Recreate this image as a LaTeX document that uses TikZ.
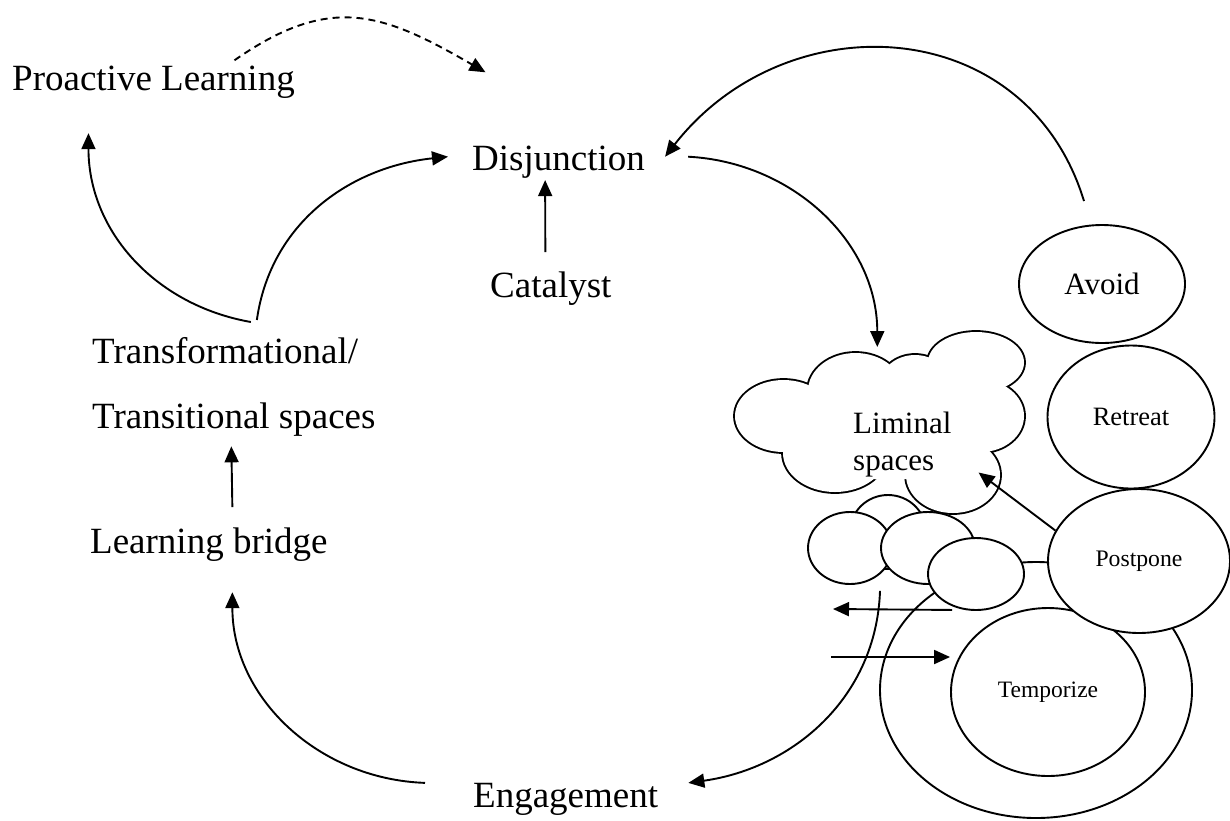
\documentclass[tikz,border=0pt]{standalone}
\usepackage{fontspec}
\setmainfont{Liberation Serif}
\usetikzlibrary{shapes.geometric, arrows.meta}

\begin{document}
\begin{tikzpicture}[x=1pt, y=1pt,
    flow/.style={-{Triangle[length=16pt,width=14pt]}, line width=1.9pt},
    term/.style={font=\fontsize{37}{44}\selectfont, inner sep=0pt, anchor=base west},
    bubble/.style={ellipse, draw, fill=white, line width=1.9pt, inner sep=0pt}]
    \useasboundingbox (0,0) rectangle (1230,-820);
    % ring round Temporize
    \node[bubble, minimum width=312, minimum height=256] (ring) at (1036,-690) {};
    \node[bubble, minimum width=194, minimum height=168, font=\fontsize{23.5}{28}\selectfont] (temp) at (1048,-692) {Temporize};
    \node[bubble, minimum width=76, minimum height=74] (b0) at (888,-532) {};
    % the cloud: thick strokes, then white fill keeps only the outer rim
    \foreach \cx/\cy/\rx/\ry in {783.5/416/48.5/36, 855.5/391/47.5/38, 915/385/35/30, 976/362.5/48/30.5, 981/416/43/36, 953/475/47/38, 835/453/52/39}
        \draw[line width=3.8pt] (\cx,-\cy) ellipse [x radius=\rx, y radius=\ry];
    \foreach \cx/\cy/\rx/\ry in {783.5/416/48.5/36, 855.5/391/47.5/38, 915/385/35/30, 976/362.5/48/30.5, 981/416/43/36, 953/475/47/38, 835/453/52/39}
        \fill[white] (\cx,-\cy) ellipse [x radius=\rx, y radius=\ry];
    \fill[white] (890,-425) ellipse [x radius=90, y radius=55];
    \node[bubble, minimum width=84, minimum height=72] (b1) at (850,-548) {};
    \node[bubble, minimum width=94, minimum height=72] (b2) at (928,-548) {};
    \node[bubble, minimum width=96, minimum height=72] (b3) at (976,-574) {};
    % reactions
    \node[bubble, minimum width=166, minimum height=118, font=\fontsize{31}{37}\selectfont] (avoid) at (1102,-284) {Avoid};
    \node[bubble, minimum width=167, minimum height=143, font=\fontsize{26.5}{32}\selectfont] (retreat) at (1131,-417) {Retreat};
    \node[bubble, minimum width=182, minimum height=144, font=\fontsize{23.7}{28}\selectfont] (post) at (1139,-561) {Postpone};
    \node[font=\fontsize{31}{37}\selectfont, align=left, inner sep=0pt, anchor=north west] (lim) at (853,-412) {Liminal\\spaces};
    % stages
    \node[term] (pro) at (12,-90) {Proactive Learning};
    \node[term] (dis) at (472,-170) {Disjunction};
    \node[term] (cat) at (490,-297) {Catalyst};
    \node[term, anchor=north west, align=left, font=\fontsize{37}{65}\selectfont] (trans) at (92,-337) {Transformational/\\Transitional spaces};
    \node[term] (lb) at (90,-553) {Learning bridge};
    \node[term] (eng) at (473,-807) {Engagement};
    \coordinate (exitL) at (833,-609);
    \coordinate (enterR) at (831,-657);
    % connectors
    \draw[flow] ([xshift=17pt,yshift=15pt]trans.north) to[out=170,in=-90] ([xshift=-65pt,yshift=-35pt]pro.south);
    \draw[flow] ([xshift=23pt,yshift=17pt]trans.north) to[out=82,in=186] ([xshift=-24pt,yshift=5pt]dis.west);
    \draw[flow, dash pattern=on 7pt off 5pt] ([xshift=81pt,yshift=5pt]pro.north) to[out=35,in=150,looseness=1.2] ([xshift=-73pt,yshift=73pt]dis.north);
    \draw[flow] ([xshift=-5.5pt,yshift=19pt]cat.north) -- ([xshift=-13.4pt,yshift=-2pt]dis.south);
    \draw[flow] ([xshift=43pt,yshift=5pt]dis.east) to[out=-3,in=90] ([xshift=-25pt,yshift=65pt]lim.north);
    \draw[flow] ([xshift=-18pt,yshift=23pt]avoid.north) to[out=107,in=52,looseness=1.2] ([xshift=20pt,yshift=5pt]dis.east);
    \draw[flow] ([xshift=30pt,yshift=-6pt]b1.south) to[out=-92,in=8] ([xshift=30pt,yshift=16pt]eng.east);
    \draw[flow] ([xshift=-48pt,yshift=16pt]eng.west) to[out=178,in=-90] ([xshift=23.5pt,yshift=-31pt]lb.south);
    \draw[flow] ([xshift=23.5pt,yshift=20pt]lb.north) -- ([xshift=-2.5pt,yshift=-10pt]trans.south);
    \draw[flow] (post.160) -- ([xshift=27pt,yshift=5pt]lim.south east);
    \draw[flow] ([xshift=-24pt,yshift=1pt]b3.south) -- (exitL);
    \draw[flow] (enterR) -- ([yshift=35pt]temp.west);
\end{tikzpicture}
\end{document}
